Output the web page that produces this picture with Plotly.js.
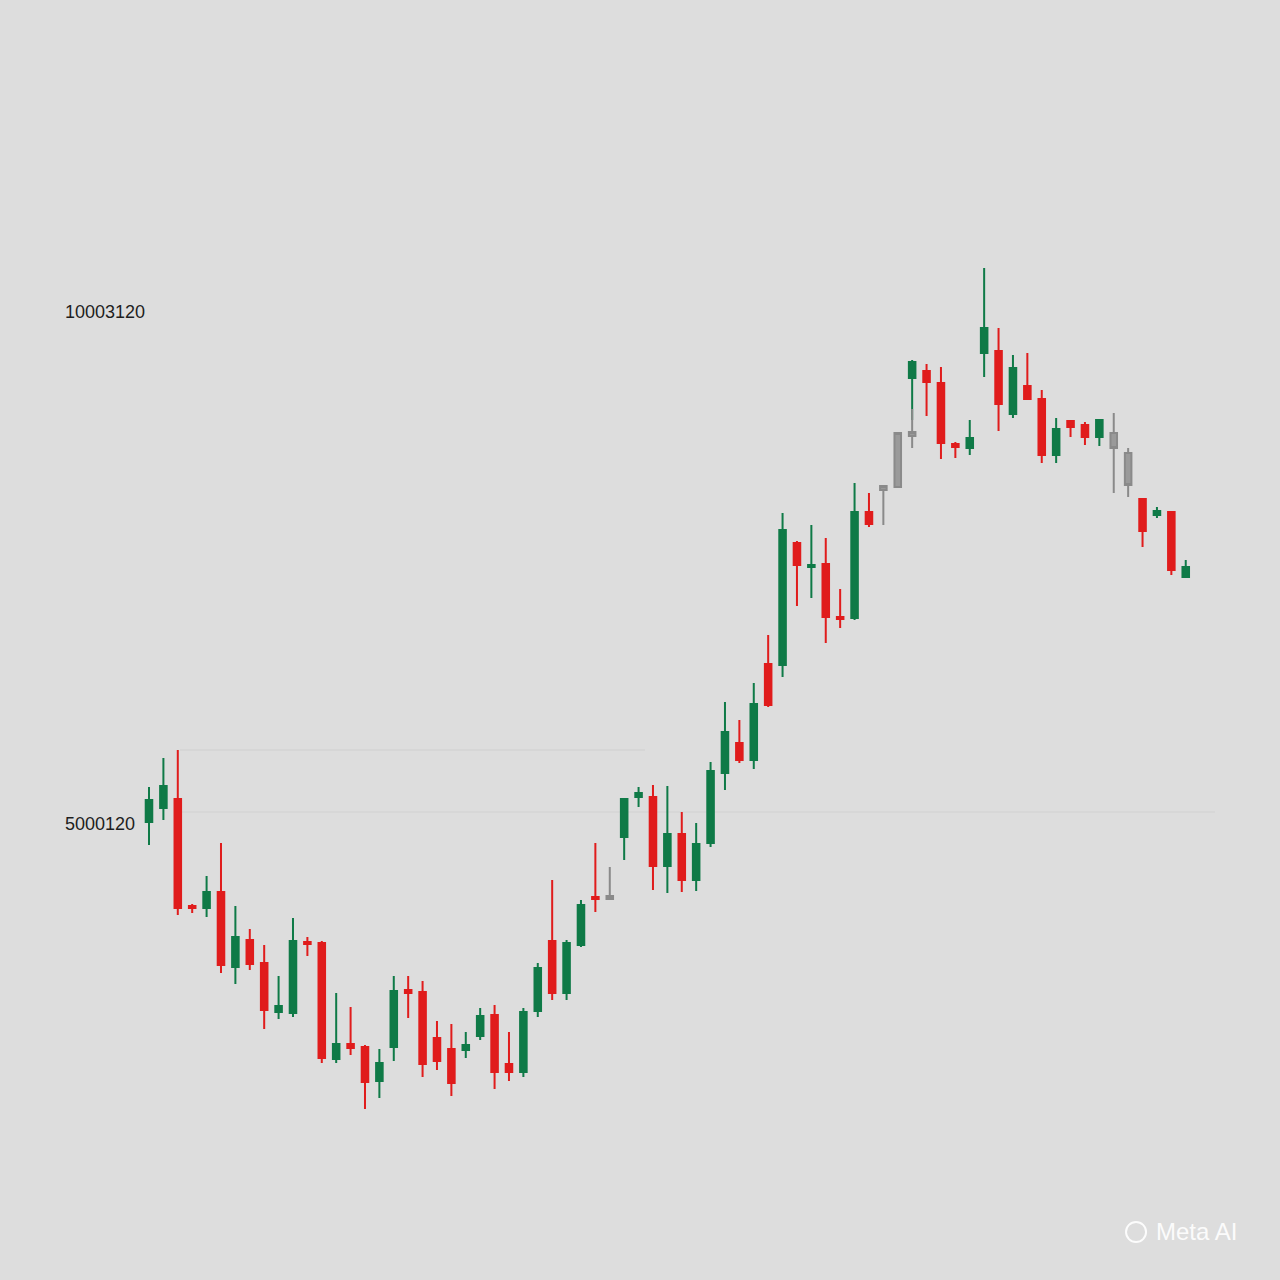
<!DOCTYPE html>
<html>
<head>
<meta charset="utf-8">
<script src="https://cdn.plot.ly/plotly-3.0.1.min.js"></script>
<style>
html,body{margin:0;padding:0;background:#dddddd;}
#chart{width:1280px;height:1280px;}
</style>
</head>
<body>
<div id="chart"></div>
<script>
// Regular (red / green) candles
var days = [1,2,3,4,5,6,7,8,9,10,11,12,13,14,15,16,17,18,19,20,21,22,23,24,25,26,27,28,29,30,31,32,
            34,35,36,37,38,39,40,41,42,43,44,45,46,47,48,49,50,51,
            54,55,56,57,58,59,60,61,62,63,64,65,66,67,
            70,71,72,73];
var openVals = [5020,5160,5250,4180,4160,4320,3570,3840,3610,3120,3110,3820,3810,2650,2800,2770,2430,2770,3340,3320,2860,2750,2740,2880,3090,2600,2520,3130,3830,3310,3790,4270,
                4870,5270,5270,4580,4900,4440,4810,5510,5810,5640,6600,6590,7810,7570,7600,7070,7060,8120,
                9460,9530,9410,8800,8760,9710,9730,9100,9380,9250,8690,9030,8990,8870,
                8250,8090,8120,7470];
var highVals = [5370,5660,5740,4200,4480,4810,4180,3950,3790,3480,4060,3870,3830,3310,3170,2790,2750,3480,3480,3430,3030,3000,2920,3160,3190,2920,3160,3610,4440,3840,4240,4810,
                5260,5370,5390,5380,5120,5010,5620,6220,6040,6410,6890,8110,7830,7990,7860,7350,8410,8310,
                9640,9600,9570,8820,9040,10560,9960,9690,9710,9340,9060,9040,9020,9050,
                8260,8170,8130,7640];
var lowVals = [4790,5040,4090,4110,4070,3510,3400,3540,2950,3050,3070,3680,2610,2610,2690,2150,2260,2630,3060,2470,2540,2280,2660,2840,2350,2430,2470,3070,3240,3240,3770,4120,
               4640,5170,4340,4310,4320,4330,4770,5340,5610,5550,6170,6470,7180,7260,6810,6960,7040,7970,
               9040,9080,8650,8660,8690,9470,8930,9060,9240,8610,8610,8870,8790,8780,
               7770,8060,7490,7460];
var closeVals = [5240,5380,4160,4160,4320,3590,3870,3600,3140,3180,3830,3800,2660,2800,2760,2420,2610,3330,3310,2600,2630,2410,2790,3080,2520,2520,3120,3560,3310,3810,4190,4250,
                 5250,5310,4580,4900,4440,4800,5530,5920,5640,6200,6190,7940,7590,7590,7070,7050,8120,8000,
                 9620,9420,8810,8770,8860,9960,9200,9560,9250,8690,8950,8970,8870,9040,
                 7930,8130,7540,7570];

// Gray (faded) candles
var grayDays  = [33,52,53,54,68,69];
var grayOpen  = [4250,8340,8370,8880,8910,8710];
var grayHigh  = [4570,8390,8910,9150,9110,8760];
var grayLow   = [4240,7990,8370,8760,8310,8270];
var grayClose = [4280,8380,8910,8920,8760,8390];

// Axis labels
var tickValues = [5000,10120];
var tickLabels = ['5000120','10003120'];

var GREEN = '#0f7a47';
var RED = '#e01c1c';
var GRAY = '#9a9a9a';

var traces = [
  {
    type: 'candlestick',
    x: days, open: openVals, high: highVals, low: lowVals, close: closeVals,
    increasing: {line: {color: GREEN, width: 2}, fillcolor: GREEN},
    decreasing: {line: {color: RED, width: 2}, fillcolor: RED},
    whiskerwidth: 0,
    showlegend: false,
    hoverinfo: 'skip'
  },
  {
    type: 'candlestick',
    x: grayDays, open: grayOpen, high: grayHigh, low: grayLow, close: grayClose,
    increasing: {line: {color: '#8a8a8a', width: 2}, fillcolor: GRAY},
    decreasing: {line: {color: '#8a8a8a', width: 2}, fillcolor: GRAY},
    whiskerwidth: 0,
    showlegend: false,
    hoverinfo: 'skip'
  }
];

var layout = {
  width: 1280,
  height: 1280,
  paper_bgcolor: '#dddddd',
  plot_bgcolor: '#dddddd',
  margin: {l: 62, r: 80, t: 60, b: 60},
  boxgap: 0.35,
  showlegend: false,
  font: {family: 'Liberation Sans, Arial, sans-serif', color: '#222222', size: 18},
  xaxis: {
    type: 'linear',
    range: [-5.0417, 73.99],
    showgrid: false, zeroline: false, showline: false,
    showticklabels: false, ticks: '',
    rangeslider: {visible: false},
    fixedrange: true
  },
  yaxis: {
    range: [1040, 12640],
    showgrid: false, zeroline: false, showline: false,
    ticks: '',
    tickmode: 'array',
    tickvals: tickValues,
    ticktext: tickLabels,
    ticklabelposition: 'inside',
    tickfont: {family: 'Liberation Sans, Arial, sans-serif', size: 18, color: '#1e1e1e'},
    fixedrange: true
  },
  shapes: [
    {type: 'line', xref: 'paper', yref: 'y', x0: 0.1037, x1: 0.5123, y0: 5740, y1: 5740,
     line: {color: 'rgba(0,0,0,0.06)', width: 1}, layer: 'below'},
    {type: 'line', xref: 'paper', yref: 'y', x0: 0.1037, x1: 1.0132, y0: 5120, y1: 5120,
     line: {color: 'rgba(0,0,0,0.05)', width: 1}, layer: 'below'},
    {type: 'circle', xref: 'paper', yref: 'paper', x0: 0.9350, x1: 0.9526, y0: -0.0190, y1: -0.0017,
     line: {color: 'rgba(255,255,255,0.9)', width: 2}}
  ],
  annotations: [
    {text: 'Meta AI', xref: 'paper', yref: 'paper', x: 0.9595, y: -0.0103,
     xanchor: 'left', yanchor: 'middle', showarrow: false,
     font: {family: 'Liberation Sans, Arial, sans-serif', size: 24, color: 'rgba(255,255,255,0.92)'}}
  ]
};

Plotly.newPlot('chart', traces, layout, {displayModeBar: false, staticPlot: true});
</script>
</body>
</html>
